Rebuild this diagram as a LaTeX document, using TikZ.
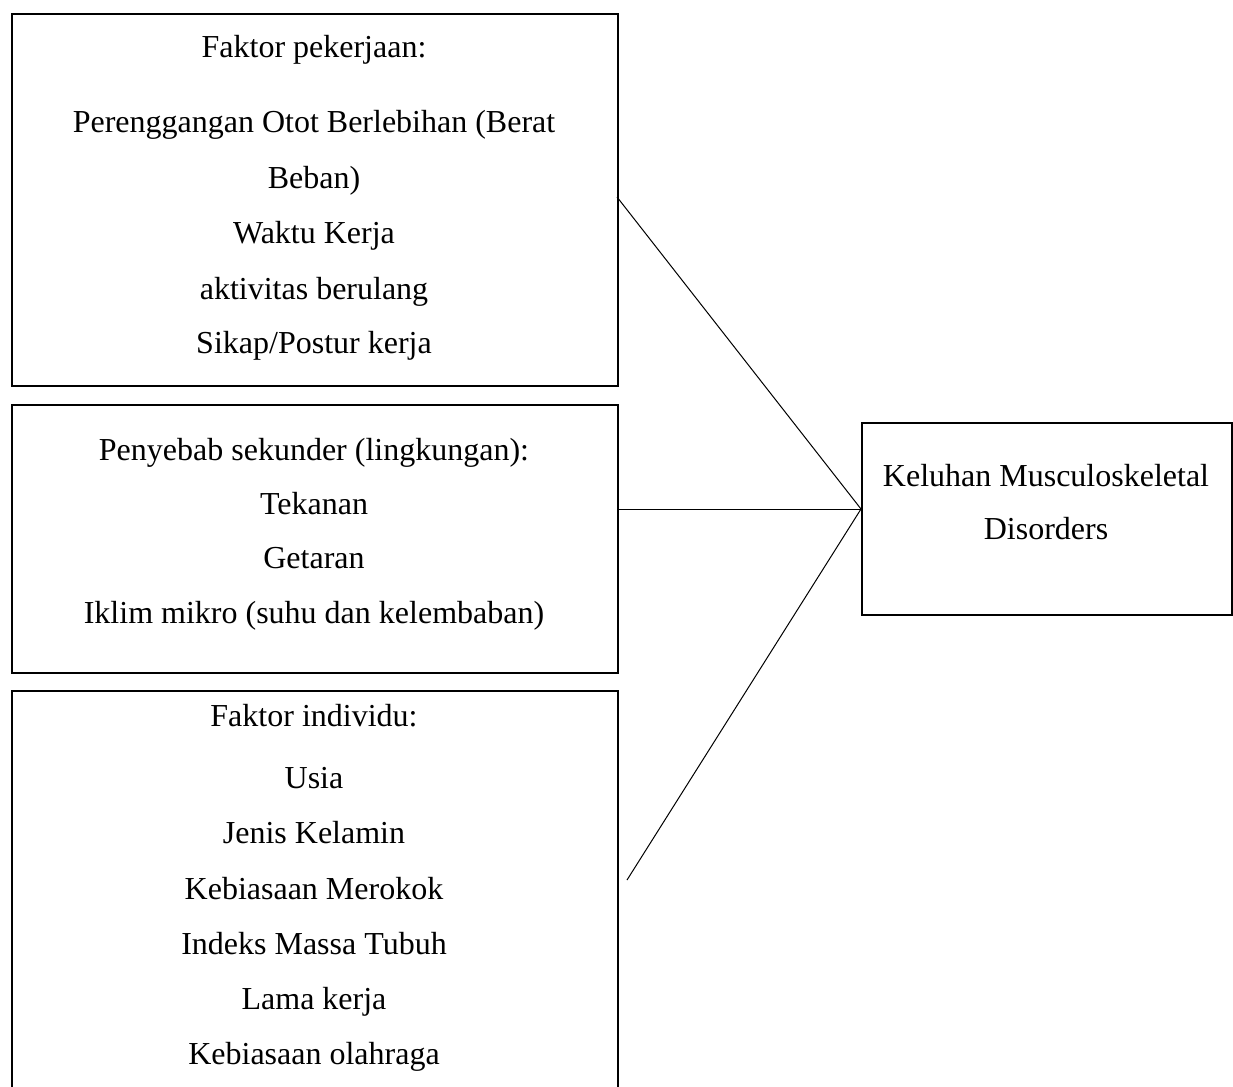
\documentclass[tikz,border=0pt]{standalone}
\usepackage{fontspec}
\setmainfont{Liberation Serif}
\begin{document}
\begin{tikzpicture}[x=1pt,y=-1pt,
  box/.style={draw=black, line width=2.3pt, rectangle, inner sep=0pt, anchor=north west},
  txt/.style={inner sep=0pt, anchor=base, yshift=-11pt, font=\fontsize{32}{38}\selectfont},
  conn/.style={draw=black, line width=1pt}]
\clip (0,0) rectangle (1233,1086);
\useasboundingbox (0,0) rectangle (1233,1086);
% boxes
\node[box, minimum width=606pt, minimum height=372pt] (b1) at (11,13) {};
\node[box, minimum width=606pt, minimum height=268pt] (b2) at (11,404) {};
\node[box, minimum width=606pt, minimum height=430pt] (b3) at (11,690) {};
\node[box, minimum width=370pt, minimum height=192pt] (k) at (861,422) {};
% box 1 text
\node[txt] (t11) at (314,47) {Faktor pekerjaan:};
\node[txt] (t12) at (314,122) {Perenggangan Otot Berlebihan (Berat};
\node[txt] (t13) at (314,178) {Beban)};
\node[txt] (t14) at (314,232) {Waktu Kerja};
\node[txt] (t15) at (314,288) {aktivitas berulang};
\node[txt] (t16) at (314,342) {Sikap/Postur kerja};
% box 2 text
\node[txt] (t21) at (314,449) {Penyebab sekunder (lingkungan):};
\node[txt] (t22) at (314,503) {Tekanan};
\node[txt] (t23) at (314,557) {Getaran};
\node[txt] (t24) at (314,612) {Iklim mikro (suhu dan kelembaban)};
% box 3 text
\node[txt] (t31) at (314,715) {Faktor individu:};
\node[txt] (t32) at (314,777) {Usia};
\node[txt] (t33) at (314,832) {Jenis Kelamin};
\node[txt] (t34) at (314,888) {Kebiasaan Merokok};
\node[txt] (t35) at (314,943) {Indeks Massa Tubuh};
\node[txt] (t36) at (314,998) {Lama kerja};
\node[txt] (t37) at (314,1053) {Kebiasaan olahraga};
% right box text
\node[txt] (k1) at (1046,475) {Keluhan Musculoskeletal};
\node[txt] (k2) at (1046,528) {Disorders};
% connectors
\coordinate (hub) at (861,509);
\coordinate (e1) at (617,197);
\coordinate (e3) at (627,880);
\draw[conn] (e1) -- (hub);
\draw[conn] (b2.east |- hub) -- (hub);
\draw[conn] (e3) -- (hub);
\end{tikzpicture}
\end{document}
